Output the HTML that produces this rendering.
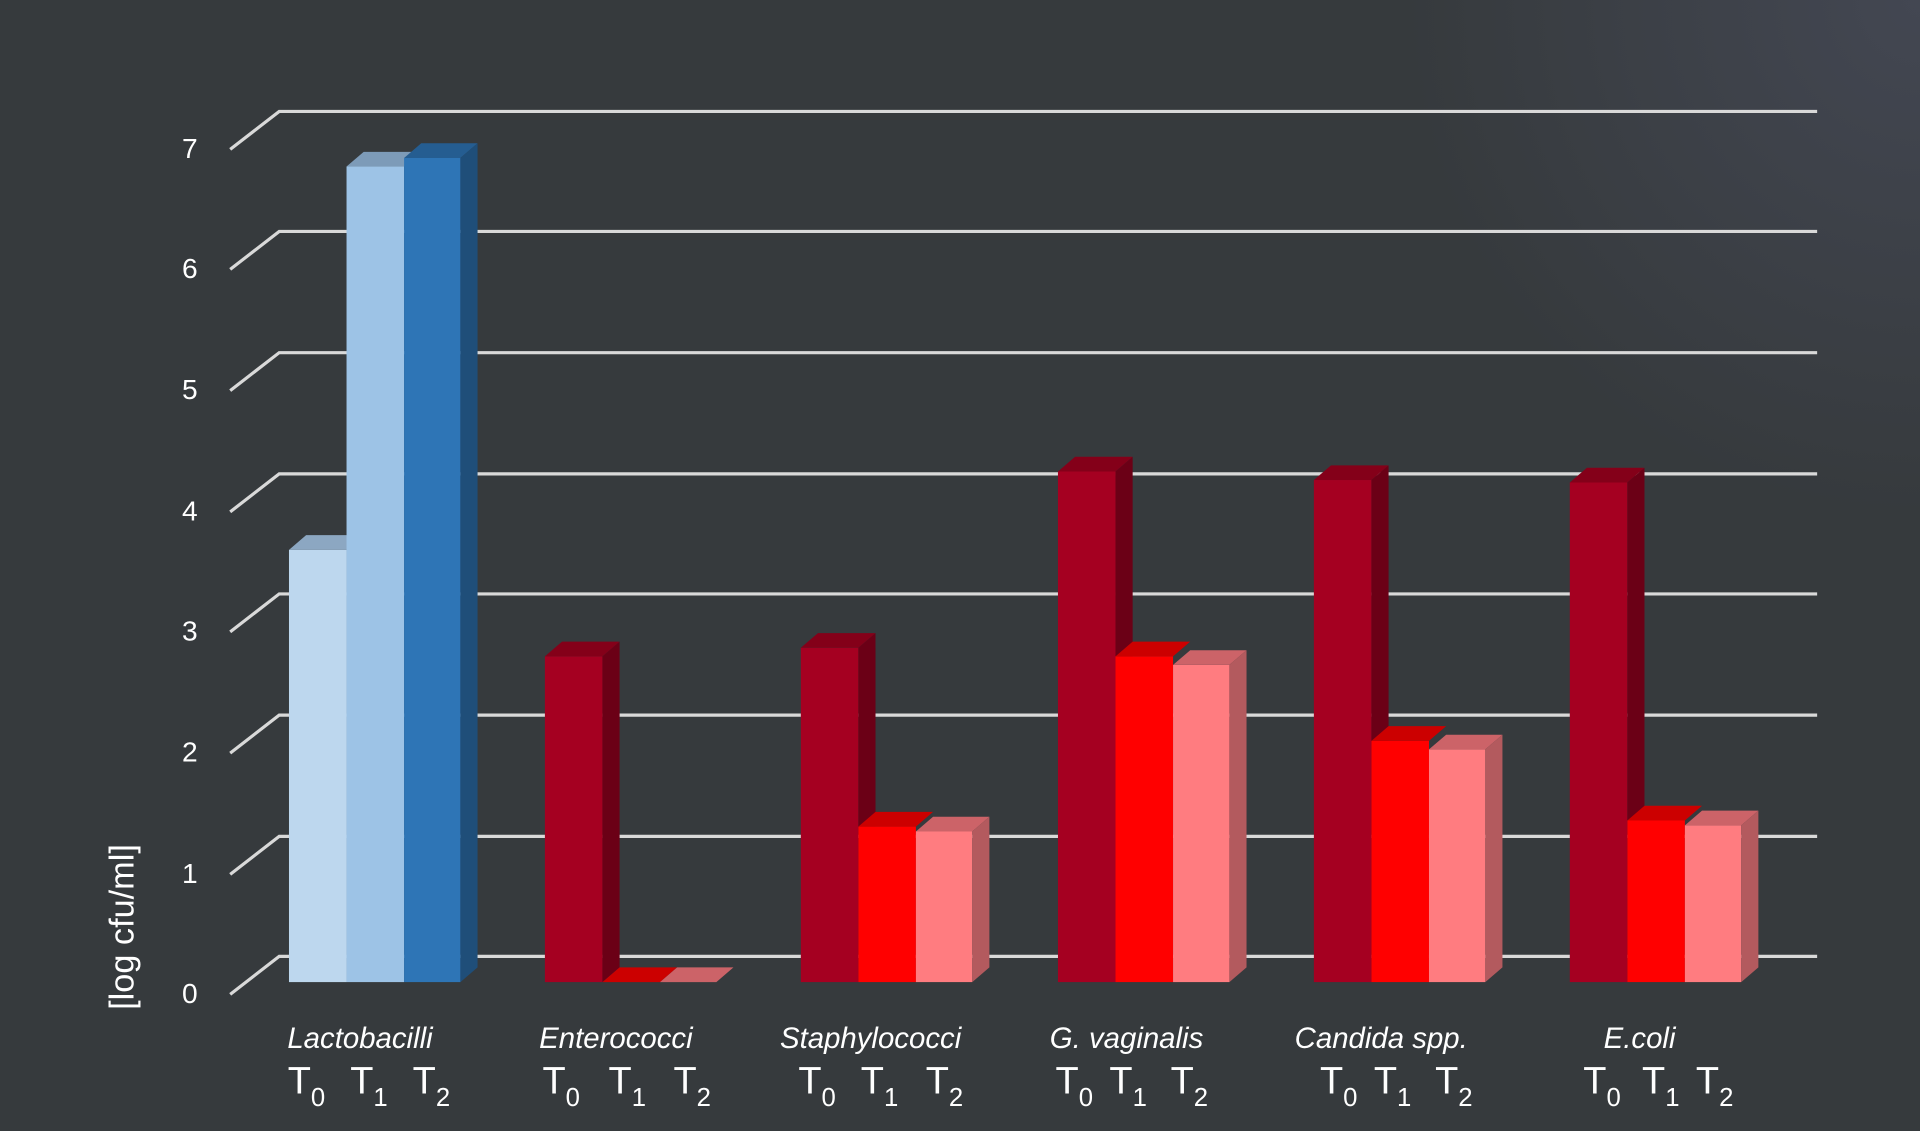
<!DOCTYPE html>
<html><head><meta charset="utf-8"><style>
html,body{margin:0;padding:0;width:1920px;height:1131px;overflow:hidden;background:#363a3d}
svg{display:block}
text{font-family:"Liberation Sans",sans-serif;fill:#fff}
</style></head><body>
<svg width="1920" height="1131" viewBox="0 0 1568 923.6" preserveAspectRatio="none" xmlns="http://www.w3.org/2000/svg">
<defs>
<radialGradient id="bg" gradientUnits="userSpaceOnUse" cx="1568" cy="0" r="420">
<stop offset="0" stop-color="#434752"/><stop offset="1" stop-color="#363a3d"/>
</radialGradient>
</defs>
<rect width="1568" height="924" fill="#363a3d"/>
<rect width="1568" height="924" fill="url(#bg)"/>
<g stroke="#d9d9d9" stroke-width="2.6" fill="none">
<polyline points="188,122 228,91 1484,91"/>
<polyline points="188,220 228,189 1484,189"/>
<polyline points="188,319 228,288 1484,288"/>
<polyline points="188,418 228,387 1484,387"/>
<polyline points="188,516 228,485 1484,485"/>
<polyline points="188,615 228,584 1484,584"/>
<polyline points="188,714 228,683 1484,683"/>
<polyline points="188,812 228,781 1484,781"/>
</g>
<g font-size="23" text-anchor="middle">
<text x="155" y="129">7</text><text x="155" y="227">6</text><text x="155" y="326">5</text><text x="155" y="425">4</text><text x="155" y="523">3</text><text x="155" y="622">2</text><text x="155" y="721">1</text><text x="155" y="819">0</text>
</g>
<text transform="translate(109,757) rotate(-90)" font-size="28" text-anchor="middle">[log cfu/ml]</text>
<g id="bars">
<rect x="236" y="449" width="47" height="353" fill="#bdd7ee"/><polygon points="236,449 250,437 297,437 283,449" fill="#8ca7c2"/>
<rect x="283" y="136" width="47" height="666" fill="#9dc3e6"/><polygon points="283,136 297,124 344,124 330,136" fill="#7d9bb8"/>
<rect x="330" y="129" width="46" height="673" fill="#2e75b6"/><polygon points="330,129 344,117 390,117 376,129" fill="#255d91"/>
<polygon points="376,129 390,117 390,790 376,802" fill="#1f4e79"/>
<rect x="445" y="536" width="47" height="266" fill="#a50021"/><polygon points="445,536 459,524 506,524 492,536" fill="#840019"/><polygon points="492,536 506,524 506,790 492,802" fill="#6b0016"/>
<polygon points="492,802 506,790 553,790 539,802" fill="#cc0000"/>
<polygon points="539,802 553,790 599,790 585,802" fill="#cc6368"/>
<rect x="654" y="529" width="47" height="273" fill="#a50021"/><polygon points="654,529 668,517 715,517 701,529" fill="#840019"/><polygon points="701,529 715,517 715,790 701,802" fill="#6b0016"/>
<rect x="701" y="675" width="47" height="127" fill="#ff0000"/><polygon points="701,675 715,663 762,663 748,675" fill="#cc0000"/>
<rect x="748" y="679" width="46" height="123" fill="#ff7c80"/><polygon points="748,679 762,667 808,667 794,679" fill="#cc6368"/><polygon points="794,679 808,667 808,790 794,802" fill="#b35a5e"/>
<rect x="864" y="385" width="47" height="417" fill="#a50021"/><polygon points="864,385 878,373 925,373 911,385" fill="#840019"/><polygon points="911,385 925,373 925,790 911,802" fill="#6b0016"/>
<rect x="911" y="536" width="47" height="266" fill="#ff0000"/><polygon points="911,536 925,524 972,524 958,536" fill="#cc0000"/>
<rect x="958" y="543" width="46" height="259" fill="#ff7c80"/><polygon points="958,543 972,531 1018,531 1004,543" fill="#cc6368"/><polygon points="1004,543 1018,531 1018,790 1004,802" fill="#b35a5e"/>
<rect x="1073" y="392" width="47" height="410" fill="#a50021"/><polygon points="1073,392 1087,380 1134,380 1120,392" fill="#840019"/><polygon points="1120,392 1134,380 1134,790 1120,802" fill="#6b0016"/>
<rect x="1120" y="605" width="47" height="197" fill="#ff0000"/><polygon points="1120,605 1134,593 1181,593 1167,605" fill="#cc0000"/>
<rect x="1167" y="612" width="46" height="190" fill="#ff7c80"/><polygon points="1167,612 1181,600 1227,600 1213,612" fill="#cc6368"/><polygon points="1213,612 1227,600 1227,790 1213,802" fill="#b35a5e"/>
<rect x="1282" y="394" width="47" height="408" fill="#a50021"/><polygon points="1282,394 1296,382 1343,382 1329,394" fill="#840019"/><polygon points="1329,394 1343,382 1343,790 1329,802" fill="#6b0016"/>
<rect x="1329" y="670" width="47" height="132" fill="#ff0000"/><polygon points="1329,670 1343,658 1390,658 1376,670" fill="#cc0000"/>
<rect x="1376" y="674" width="46" height="128" fill="#ff7c80"/><polygon points="1376,674 1390,662 1436,662 1422,674" fill="#cc6368"/><polygon points="1422,674 1436,662 1436,790 1422,802" fill="#b35a5e"/>
</g>
<g font-size="24" font-style="italic" text-anchor="middle">
<text x="294" y="856">Lactobacilli</text>
<text x="503" y="856">Enterococci</text>
<text x="711" y="856">Staphylococci</text>
<text x="920" y="856">G. vaginalis</text>
<text x="1128" y="856">Candida spp.</text>
<text x="1339" y="856">E.coli</text>
</g>
<g font-size="31">
<text x="235" y="893">T<tspan font-size="21" dy="10">0</tspan></text>
<text x="286" y="893">T<tspan font-size="21" dy="10">1</tspan></text>
<text x="337" y="893">T<tspan font-size="21" dy="10">2</tspan></text>
<text x="443" y="893">T<tspan font-size="21" dy="10">0</tspan></text>
<text x="497" y="893">T<tspan font-size="21" dy="10">1</tspan></text>
<text x="550" y="893">T<tspan font-size="21" dy="10">2</tspan></text>
<text x="652" y="893">T<tspan font-size="21" dy="10">0</tspan></text>
<text x="703" y="893">T<tspan font-size="21" dy="10">1</tspan></text>
<text x="756" y="893">T<tspan font-size="21" dy="10">2</tspan></text>
<text x="862" y="893">T<tspan font-size="21" dy="10">0</tspan></text>
<text x="906" y="893">T<tspan font-size="21" dy="10">1</tspan></text>
<text x="956" y="893">T<tspan font-size="21" dy="10">2</tspan></text>
<text x="1078" y="893">T<tspan font-size="21" dy="10">0</tspan></text>
<text x="1122" y="893">T<tspan font-size="21" dy="10">1</tspan></text>
<text x="1172" y="893">T<tspan font-size="21" dy="10">2</tspan></text>
<text x="1293" y="893">T<tspan font-size="21" dy="10">0</tspan></text>
<text x="1341" y="893">T<tspan font-size="21" dy="10">1</tspan></text>
<text x="1385" y="893">T<tspan font-size="21" dy="10">2</tspan></text>
</g>
</svg>
</body></html>
